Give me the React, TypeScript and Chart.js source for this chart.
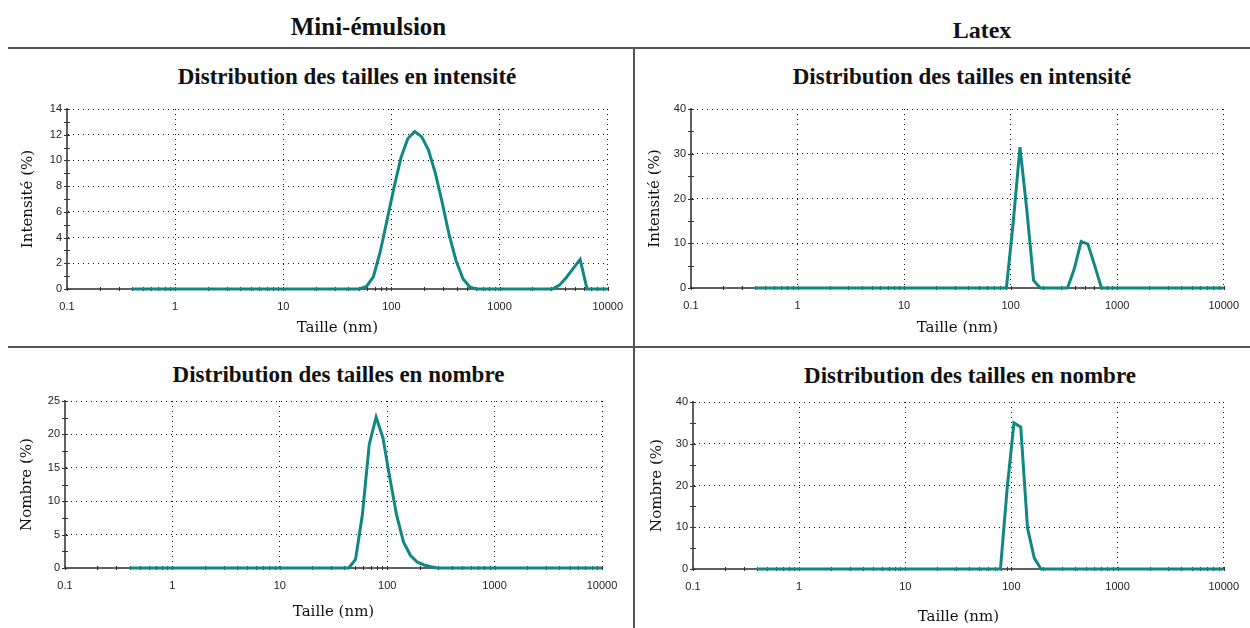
import React, { useEffect, useRef } from 'react';
import { Chart, registerables } from 'chart.js';

Chart.register(...registerables);

// ---------- data ----------
const xDecades = [0.1, 1, 10, 100, 1000, 10000];
const xDecadeLabels = ['0.1', '1', '10', '100', '1000', '10000'];

const meIntensitySizes = [0.4, 50.75, 58.77, 68.06, 78.82, 91.28, 105.7, 122.4, 141.8, 164.2, 190.1, 220.2, 255.0, 295.3, 342.0, 396.1, 458.7, 531.2, 615.1, 3091, 3580, 4145, 4801, 5560, 6439, 10000];
const meIntensityValues = [0, 0, 0.2, 0.95, 2.9, 5.4, 7.9, 10.2, 11.7, 12.25, 11.85, 10.8, 9.0, 6.7, 4.2, 2.2, 0.8, 0.15, 0, 0, 0.3, 0.9, 1.6, 2.3, 0, 0];

const latexIntensitySizes = [0.4, 91.28, 105.7, 122.4, 141.8, 164.2, 190.1, 342.0, 396.1, 458.7, 531.2, 615.1, 712.4, 10000];
const latexIntensityValues = [0, 0, 14.6, 31.5, 17.5, 1.7, 0, 0, 4.3, 10.4, 9.8, 5.0, 0, 0];

const meNumberSizes = [0.4, 43.82, 50.75, 58.77, 68.06, 78.82, 91.28, 105.7, 122.4, 141.8, 164.2, 190.1, 220.2, 255.0, 295.3, 10000];
const meNumberValues = [0, 0, 1.3, 8.0, 18.5, 22.6, 19.5, 13.5, 7.9, 3.9, 1.9, 0.9, 0.45, 0.2, 0, 0];

const latexNumberSizes = [0.4, 78.82, 91.28, 105.7, 122.4, 141.8, 164.2, 190.1, 10000];
const latexNumberValues = [0, 0, 19.5, 35.0, 34.0, 9.8, 2.6, 0, 0];

const headerLeft = 'Mini-émulsion';
const headerRight = 'Latex';
const titleIntensity = 'Distribution des tailles en intensité';
const titleNumber = 'Distribution des tailles en nombre';
const xAxisTitle = 'Taille (nm)';
const yTitleIntensity = 'Intensité (%)';
const yTitleNumber = 'Nombre (%)';

// ---------- styles ----------
const TEAL = '#108882';
const TICK_FONT = { family: 'Liberation Sans', size: 11 };
const AXIS_TITLE_FONT = { family: 'DejaVu Serif', size: 15 };

// minor ticks 1..9 within each decade (axis decoration)
const xTickValues: number[] = [];
for (let d = 0; d < xDecades.length - 1; d++) {
  for (let k = 1; k <= 9; k++) xTickValues.push(+(xDecades[d] * k).toPrecision(6));
}
xTickValues.push(xDecades[xDecades.length - 1]);

const isDecade = (v: number) => xDecades.some((d) => Math.abs(v - d) / d < 1e-6);
const decadeLabel = (v: number) => {
  const i = xDecades.findIndex((d) => Math.abs(v - d) / d < 1e-6);
  return i >= 0 ? xDecadeLabels[i] : '';
};

// tick marks that cross the axis lines (drawn under the data line)
const crossTicks = {
  id: 'crossTicks',
  beforeDatasetsDraw(chart: any) {
    const { ctx } = chart;
    const xs = chart.scales.x;
    const ys = chart.scales.y;
    ctx.save();
    ctx.strokeStyle = '#333';
    ctx.lineWidth = 1;
    ctx.beginPath();
    const axisY = Math.round(xs.top);
    for (const t of xs.ticks) {
      const px = Math.round(xs.getPixelForValue(t.value)) + 0.5;
      ctx.moveTo(px, axisY - 2);
      ctx.lineTo(px, axisY + 2);
    }
    const axisX = Math.round(ys.right);
    for (const t of ys.ticks) {
      const py = Math.round(ys.getPixelForValue(t.value)) + 0.5;
      ctx.moveTo(axisX - 3, py);
      ctx.lineTo(axisX + 3, py);
    }
    ctx.stroke();
    ctx.restore();
  },
};

type Spec = {
  canvas: { x: number; y: number; w: number; h: number };
  plot: { l: number; r: number; t: number; b: number };
  xTitleY: number;
  yTitleX: number;
  yMax: number;
  yStep: number;
  yLabelStep: number;
  yTitle: string;
  sizes: number[];
  values: number[];
};

const specs: Spec[] = [
  {
    canvas: { x: 8, y: 50, w: 626, h: 296 },
    plot: { l: 67, r: 608, t: 109, b: 289 },
    xTitleY: 328, yTitleX: 28, yMax: 14, yStep: 1, yLabelStep: 2,
    yTitle: yTitleIntensity, sizes: meIntensitySizes, values: meIntensityValues,
  },
  {
    canvas: { x: 636, y: 50, w: 614, h: 296 },
    plot: { l: 691, r: 1234, t: 109, b: 288 },
    xTitleY: 328, yTitleX: 655, yMax: 40, yStep: 5, yLabelStep: 10,
    yTitle: yTitleIntensity, sizes: latexIntensitySizes, values: latexIntensityValues,
  },
  {
    canvas: { x: 8, y: 349, w: 626, h: 279 },
    plot: { l: 65, r: 602, t: 401, b: 568 },
    xTitleY: 612, yTitleX: 27, yMax: 25, yStep: 2.5, yLabelStep: 5,
    yTitle: yTitleNumber, sizes: meNumberSizes, values: meNumberValues,
  },
  {
    canvas: { x: 636, y: 349, w: 614, h: 279 },
    plot: { l: 693, r: 1233, t: 402, b: 569 },
    xTitleY: 617, yTitleX: 657, yMax: 40, yStep: 5, yLabelStep: 10,
    yTitle: yTitleNumber, sizes: latexNumberSizes, values: latexNumberValues,
  },
];

function makeChart(canvas: HTMLCanvasElement, p: Spec) {
  const yAxisW = p.plot.l - p.canvas.x;
  const xAxisH = p.canvas.y + p.canvas.h - p.plot.b;
  const isMajorY = (v: number) => Math.abs(v / p.yLabelStep - Math.round(v / p.yLabelStep)) < 1e-6;
  return new Chart(canvas, {
    type: 'line',
    data: {
      datasets: [
        {
          data: p.sizes.map((s, i) => ({ x: s, y: p.values[i] })),
          borderColor: TEAL,
          backgroundColor: TEAL,
          borderWidth: 3,
          pointRadius: 0,
          tension: 0,
          fill: false,
          clip: false as any,
        },
      ],
    },
    plugins: [crossTicks],
    options: {
      responsive: false,
      animation: false,
      devicePixelRatio: 1,
      layout: {
        padding: {
          top: p.plot.t - p.canvas.y,
          right: p.canvas.x + p.canvas.w - p.plot.r,
          left: 0,
          bottom: 0,
        },
      },
      plugins: {
        legend: { display: false },
        tooltip: { enabled: false },
        title: { display: false },
      },
      scales: {
        x: {
          type: 'logarithmic',
          min: 0.1,
          max: 10000,
          afterBuildTicks: (s: any) => {
            s.ticks = xTickValues.map((v) => ({ value: v }));
          },
          afterFit: (s: any) => {
            s.height = xAxisH;
          },
          ticks: {
            autoSkip: false,
            maxRotation: 0,
            minRotation: 0,
            padding: 11,
            color: '#222',
            font: TICK_FONT,
            callback: (v: any) => decadeLabel(Number(v)),
          },
          grid: {
            color: (ctx: any) => (ctx.tick && isDecade(ctx.tick.value) ? '#111' : 'rgba(0,0,0,0)'),
            lineWidth: 1,
            drawTicks: false,
          },
          border: { display: true, color: '#606060', width: 2, dash: [1, 4] },
          title: {
            display: true,
            text: xAxisTitle,
            color: '#111',
            font: AXIS_TITLE_FONT,
            padding: { top: 0, bottom: p.canvas.y + p.canvas.h - p.xTitleY - 9 },
          },
        },
        y: {
          type: 'linear',
          min: 0,
          max: p.yMax,
          afterFit: (s: any) => {
            s.width = yAxisW;
          },
          ticks: {
            stepSize: p.yStep,
            autoSkip: false,
            padding: 5,
            color: '#222',
            font: TICK_FONT,
            callback: (v: any) => (isMajorY(Number(v)) ? String(v) : ''),
          },
          grid: {
            color: (ctx: any) => (ctx.tick && isMajorY(ctx.tick.value) ? '#111' : 'rgba(0,0,0,0)'),
            lineWidth: 1,
            drawTicks: false,
          },
          border: { display: true, color: '#606060', width: 2, dash: [1, 4] },
          title: {
            display: true,
            text: p.yTitle,
            color: '#111',
            font: AXIS_TITLE_FONT,
            padding: { top: p.yTitleX - p.canvas.x - 9, bottom: 0 },
          },
        },
      },
    } as any,
  });
}

function Panel({ spec }: { spec: Spec }) {
  const ref = useRef<HTMLCanvasElement>(null);
  useEffect(() => {
    const chart = makeChart(ref.current!, spec);
    return () => chart.destroy();
  }, [spec]);
  return (
    <canvas
      ref={ref}
      width={spec.canvas.w}
      height={spec.canvas.h}
      style={{ position: 'absolute', left: spec.canvas.x, top: spec.canvas.y, width: spec.canvas.w, height: spec.canvas.h }}
    />
  );
}

function Label({ text, cx, cy, size }: { text: string; cx: number; cy: number; size: number }) {
  return (
    <div
      style={{
        position: 'absolute',
        left: cx,
        top: cy,
        transform: 'translate(-50%, -50%)',
        fontFamily: '"Liberation Serif", serif',
        fontWeight: 'bold',
        fontSize: size,
        lineHeight: 1,
        whiteSpace: 'nowrap',
        color: '#111',
      }}
    >
      {text}
    </div>
  );
}

const lineStyle = (left: number, top: number, width: number, height: number): React.CSSProperties => ({
  position: 'absolute',
  left,
  top,
  width,
  height,
  background: '#555',
});

export default function App() {
  return (
    <div style={{ position: 'absolute', left: 0, top: 0, width: 1250, height: 628, background: '#fff', overflow: 'hidden' }}>
      <Label text={headerLeft} cx={368.5} cy={25.5} size={25} />
      <Label text={headerRight} cx={982} cy={29.5} size={24} />
      <div style={lineStyle(8, 47, 1242, 2)} />
      <div style={lineStyle(8, 346, 1242, 2)} />
      <div style={lineStyle(633, 47, 2, 581)} />
      <Label text={titleIntensity} cx={347} cy={76} size={23} />
      <Label text={titleIntensity} cx={962} cy={76} size={23} />
      <Label text={titleNumber} cx={338.5} cy={374} size={23} />
      <Label text={titleNumber} cx={970} cy={375} size={23} />
      {specs.map((s, i) => (
        <Panel key={i} spec={s} />
      ))}
    </div>
  );
}
